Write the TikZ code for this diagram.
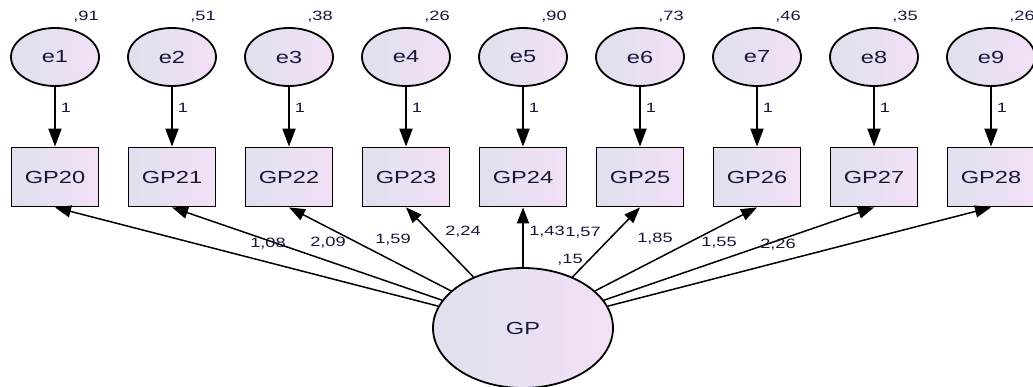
\documentclass[tikz,border=0pt]{standalone}
\usepackage{fontspec}
\setmainfont{Liberation Sans}
\usetikzlibrary{arrows.meta,shapes.geometric}
\definecolor{lavL}{RGB}{224,224,238}
\definecolor{lavR}{RGB}{243,224,247}
\definecolor{txt}{RGB}{24,24,56}
\newcommand{\stx}[1]{\scalebox{1.35}[1]{#1}}
\begin{document}
\begin{tikzpicture}[x=1pt,y=-1pt,
  lat/.style={ellipse, draw, line width=1.8pt, minimum width=88pt, minimum height=58pt, inner sep=0pt,
    left color=lavL, right color=lavR, text=txt, font=\fontsize{17.5}{20}\selectfont},
  obs/.style={rectangle, draw, line width=1.8pt, minimum width=87pt, minimum height=59pt, inner sep=0pt,
    left color=lavL, right color=lavR, text=txt, font=\fontsize{17.5}{20}\selectfont},
  lab/.style={text=txt, font=\fontsize{13.5}{15}\selectfont, inner sep=0pt},
  arr/.style={line width=2pt, -{Triangle[length=18pt,width=13pt]}},
  load/.style={line width=1.5pt, -{Triangle[length=16pt,width=12pt]}}]
\useasboundingbox (0,0) rectangle (1033,387);
\clip (0,0) rectangle (1033,387);
\fill[white] (0,0) rectangle (1033,387);
\foreach \i/\v in {1/91,2/51,3/38,4/26,5/90,6/73,7/46,8/35,9/26}{
  \pgfmathsetmacro{\xx}{55+117*(\i-1)}
  \pgfmathtruncatemacro{\gp}{19+\i}
  \node[lat] (e\i) at (\xx,57) {\stx{e\i}};
  \node[obs] (b\i) at (\xx,177) {\stx{GP\gp}};
  \node[lab] (v\i) at (\xx+31,17) {\stx{,\v}};
  \node[lab] (one\i) at (\xx+11,108) {\stx{1}};
  \draw[arr] (e\i) -- (b\i);
}
\node[lat, minimum width=180pt, minimum height=120pt] (GP) at (523,328) {\stx{GP}};
\foreach \i in {1,...,9}{
  \draw[load] (GP) -- (b\i.south);
}
\node[lab] (l1) at (268,244) {\stx{1,08}};
\node[lab] (l2) at (328,243) {\stx{2,09}};
\node[lab] (l3) at (393,240) {\stx{1,59}};
\node[lab] (l4) at (463,232) {\stx{2,24}};
\node[lab] (l5) at (547,232) {\stx{1,43}};
\node[lab] (l6) at (583,233) {\stx{1,57}};
\node[lab] (l7) at (655,239) {\stx{1,85}};
\node[lab] (l8) at (719,243) {\stx{1,55}};
\node[lab] (l9) at (778,245) {\stx{2,26}};
\node[lab] (vGP) at (570,260) {\stx{,15}};
\end{tikzpicture}
\end{document}
